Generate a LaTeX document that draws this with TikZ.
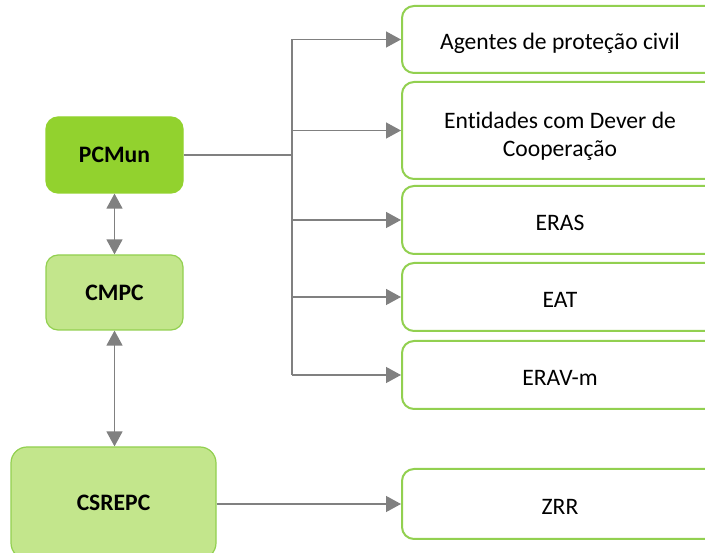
\documentclass[tikz,border=0pt]{standalone}
\usepackage{fontspec}
\setmainfont{Carlito}[Ligatures={NoCommon}]
\usetikzlibrary{arrows.meta,calc}
\definecolor{darkgr}{RGB}{146,210,46}
\definecolor{lightgr}{RGB}{195,230,140}
\definecolor{bordgr}{RGB}{146,208,80}
\definecolor{arrgray}{RGB}{128,128,128}
\tikzset{
  lbox/.style={rounded corners=12pt, draw=bordgr, line width=1.2pt, align=center, font=\fontsize{23.6}{28}\selectfont\bfseries, inner sep=0pt},
  rbox/.style={rounded corners=12pt, draw=bordgr, line width=2pt, fill=white, align=center, font=\fontsize{23.6}{28}\selectfont, inner sep=0pt, minimum width=316pt, text height=26pt, text depth=5pt},
  conn/.style={draw=arrgray, line width=1.4pt},
  tip/.style={conn, -{Triangle[length=15pt,width=16pt]}},
  dtip/.style={conn, {Triangle[length=15pt,width=16pt]}-{Triangle[length=15pt,width=16pt]}}
}
\begin{document}
\begin{tikzpicture}[x=1pt,y=1pt]
\useasboundingbox (0,0) rectangle (705,-553);
\node[lbox, fill=darkgr, draw=darkgr, minimum width=137pt, minimum height=76pt] (P) at (114.5,-155) {PCMun};
\node[lbox, fill=lightgr, minimum width=137pt, minimum height=75pt] (M) at (114.5,-292.5) {CMPC};
\node[lbox, fill=lightgr, rounded corners=16pt, minimum width=205pt, minimum height=112pt] (S) at (113.5,-503) {CSREPC};
\node[rbox, minimum height=67pt] (A) at (560,-39.5) {Agentes de proteção civil};
\node[rbox, minimum height=97pt, text height=58pt, text depth=5pt] (E) at (560,-130.5) {Entidades com Dever de\\Cooperação};
\node[rbox, minimum height=68pt] (R) at (560,-220) {ERAS};
\node[rbox, minimum height=68pt] (T) at (560,-297) {EAT};
\node[rbox, minimum height=68pt] (V) at (560,-375) {ERAV-m};
\node[rbox, minimum height=70pt] (Z) at (560,-504) {ZRR};
\coordinate (bus) at (292,-155);
\draw[conn] (P.east) -- (bus);
\draw[conn] (bus |- A.west) -- (bus |- V.west);
\foreach \n in {A,E,R,T,V}{
  \draw[tip] (bus |- \n.west) -- (\n.west);
}
\draw[tip] (Z.west -| S.east) -- (Z.west);
\draw[dtip] (P.south) -- (M.north);
\draw[dtip] (M.south) -- (S.north -| M.south);
\end{tikzpicture}
\end{document}
